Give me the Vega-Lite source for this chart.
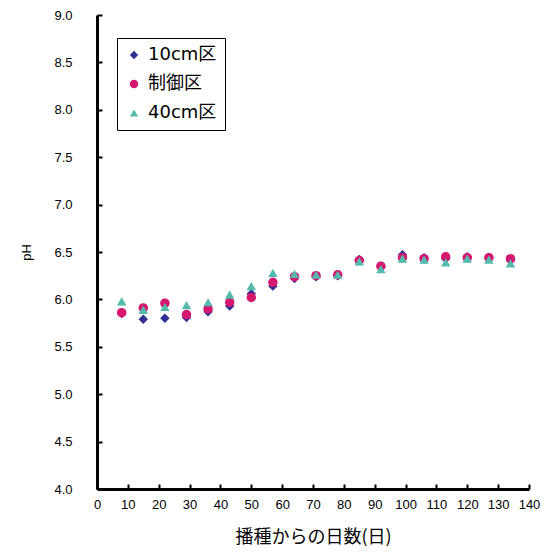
{
  "$schema": "https://vega.github.io/schema/vega-lite/v6.json",
  "width": 432,
  "height": 474,
  "autosize": {"type": "none"},
  "padding": {"left": 97, "top": 15, "right": 17, "bottom": 66},
  "background": "white",
  "config": {
    "view": {"stroke": null},
    "font": "Noto Sans CJK JP"
  },
  "data": {
    "values": [
      {"day": 8, "series": "10cm区", "pH": 5.85},
      {"day": 15, "series": "10cm区", "pH": 5.79},
      {"day": 22, "series": "10cm区", "pH": 5.80},
      {"day": 29, "series": "10cm区", "pH": 5.81},
      {"day": 36, "series": "10cm区", "pH": 5.87},
      {"day": 43, "series": "10cm区", "pH": 5.93},
      {"day": 50, "series": "10cm区", "pH": 6.06},
      {"day": 57, "series": "10cm区", "pH": 6.14},
      {"day": 64, "series": "10cm区", "pH": 6.22},
      {"day": 71, "series": "10cm区", "pH": 6.24},
      {"day": 78, "series": "10cm区", "pH": 6.25},
      {"day": 85, "series": "10cm区", "pH": 6.42},
      {"day": 92, "series": "10cm区", "pH": 6.35},
      {"day": 99, "series": "10cm区", "pH": 6.47},
      {"day": 106, "series": "10cm区", "pH": 6.44},
      {"day": 113, "series": "10cm区", "pH": 6.43},
      {"day": 120, "series": "10cm区", "pH": 6.45},
      {"day": 127, "series": "10cm区", "pH": 6.44},
      {"day": 134, "series": "10cm区", "pH": 6.41},
      {"day": 8, "series": "制御区", "pH": 5.86},
      {"day": 15, "series": "制御区", "pH": 5.91},
      {"day": 22, "series": "制御区", "pH": 5.96},
      {"day": 29, "series": "制御区", "pH": 5.84},
      {"day": 36, "series": "制御区", "pH": 5.90},
      {"day": 43, "series": "制御区", "pH": 5.97},
      {"day": 50, "series": "制御区", "pH": 6.02},
      {"day": 57, "series": "制御区", "pH": 6.18},
      {"day": 64, "series": "制御区", "pH": 6.24},
      {"day": 71, "series": "制御区", "pH": 6.25},
      {"day": 78, "series": "制御区", "pH": 6.26},
      {"day": 85, "series": "制御区", "pH": 6.41},
      {"day": 92, "series": "制御区", "pH": 6.35},
      {"day": 99, "series": "制御区", "pH": 6.44},
      {"day": 106, "series": "制御区", "pH": 6.43},
      {"day": 113, "series": "制御区", "pH": 6.45},
      {"day": 120, "series": "制御区", "pH": 6.44},
      {"day": 127, "series": "制御区", "pH": 6.44},
      {"day": 134, "series": "制御区", "pH": 6.43},
      {"day": 8, "series": "40cm区", "pH": 5.98},
      {"day": 15, "series": "40cm区", "pH": 5.89},
      {"day": 22, "series": "40cm区", "pH": 5.92},
      {"day": 29, "series": "40cm区", "pH": 5.94},
      {"day": 36, "series": "40cm区", "pH": 5.97},
      {"day": 43, "series": "40cm区", "pH": 6.05},
      {"day": 50, "series": "40cm区", "pH": 6.14},
      {"day": 57, "series": "40cm区", "pH": 6.28},
      {"day": 64, "series": "40cm区", "pH": 6.27},
      {"day": 71, "series": "40cm区", "pH": 6.26},
      {"day": 78, "series": "40cm区", "pH": 6.26},
      {"day": 85, "series": "40cm区", "pH": 6.40},
      {"day": 92, "series": "40cm区", "pH": 6.32},
      {"day": 99, "series": "40cm区", "pH": 6.43},
      {"day": 106, "series": "40cm区", "pH": 6.42},
      {"day": 113, "series": "40cm区", "pH": 6.39},
      {"day": 120, "series": "40cm区", "pH": 6.43},
      {"day": 127, "series": "40cm区", "pH": 6.42},
      {"day": 134, "series": "40cm区", "pH": 6.38}
    ]
  },
  "mark": {"type": "point", "filled": true, "opacity": 1, "size": 90},
  "encoding": {
    "x": {
      "field": "day",
      "type": "quantitative",
      "scale": {"domain": [0, 140], "nice": false, "zero": false},
      "axis": {
        "values": [0, 10, 20, 30, 40, 50, 60, 70, 80, 90, 100, 110, 120, 130, 140],
        "title": "播種からの日数(日)",
        "titleFont": "Noto Sans CJK JP",
        "titleFontSize": 18,
        "titleFontWeight": "normal",
        "titleColor": "black",
        "titlePadding": 17,
        "labelFont": "Liberation Sans",
        "labelFontSize": 13,
        "labelColor": "black",
        "labelPadding": 14,
        "domainColor": "black",
        "domainWidth": 3,
        "tickColor": "black",
        "tickSize": -5,
        "tickWidth": 2,
        "grid": false,
        "labelFlush": false
      }
    },
    "y": {
      "field": "pH",
      "type": "quantitative",
      "scale": {"domain": [4, 9], "nice": false, "zero": false},
      "axis": {
        "values": [4, 4.5, 5, 5.5, 6, 6.5, 7, 7.5, 8, 8.5, 9],
        "format": ".1f",
        "title": "pH",
        "titleFont": "Liberation Sans",
        "titleFontSize": 13,
        "titleFontWeight": "normal",
        "titleColor": "black",
        "titlePadding": 20,
        "labelFont": "Liberation Sans",
        "labelFontSize": 13,
        "labelColor": "black",
        "labelPadding": 30,
        "domainColor": "black",
        "domainWidth": 3,
        "tickColor": "black",
        "tickSize": -5,
        "tickWidth": 2,
        "grid": false,
        "labelFlush": false
      }
    },
    "color": {
      "field": "series",
      "type": "nominal",
      "scale": {"domain": ["10cm区", "制御区", "40cm区"], "range": ["#2e3192", "#d6176f", "#52bbae"]},
      "legend": {
        "title": null,
        "orient": "none",
        "legendX": 20,
        "legendY": 23,
        "strokeColor": "black",
        "fillColor": "white",
        "padding": 8,
        "labelFont": "DejaVu Sans, Noto Sans CJK JP",
        "labelFontSize": 18,
        "labelColor": "black",
        "rowPadding": 11,
        "symbolSize": 70,
        "labelOffset": 5,
        "encode": {"legend": {"update": {"strokeWidth": {"value": 1.5}}}}
      }
    },
    "shape": {
      "field": "series",
      "type": "nominal",
      "scale": {"domain": ["10cm区", "制御区", "40cm区"], "range": ["diamond", "circle", "triangle-up"]},
      "legend": {
        "title": null,
        "orient": "none",
        "legendX": 20,
        "legendY": 23,
        "strokeColor": "black",
        "fillColor": "white",
        "padding": 8,
        "labelFont": "DejaVu Sans, Noto Sans CJK JP",
        "labelFontSize": 18,
        "labelColor": "black",
        "rowPadding": 11,
        "symbolSize": 70,
        "labelOffset": 5,
        "encode": {"legend": {"update": {"strokeWidth": {"value": 1.5}}}}
      }
    }
  }
}
